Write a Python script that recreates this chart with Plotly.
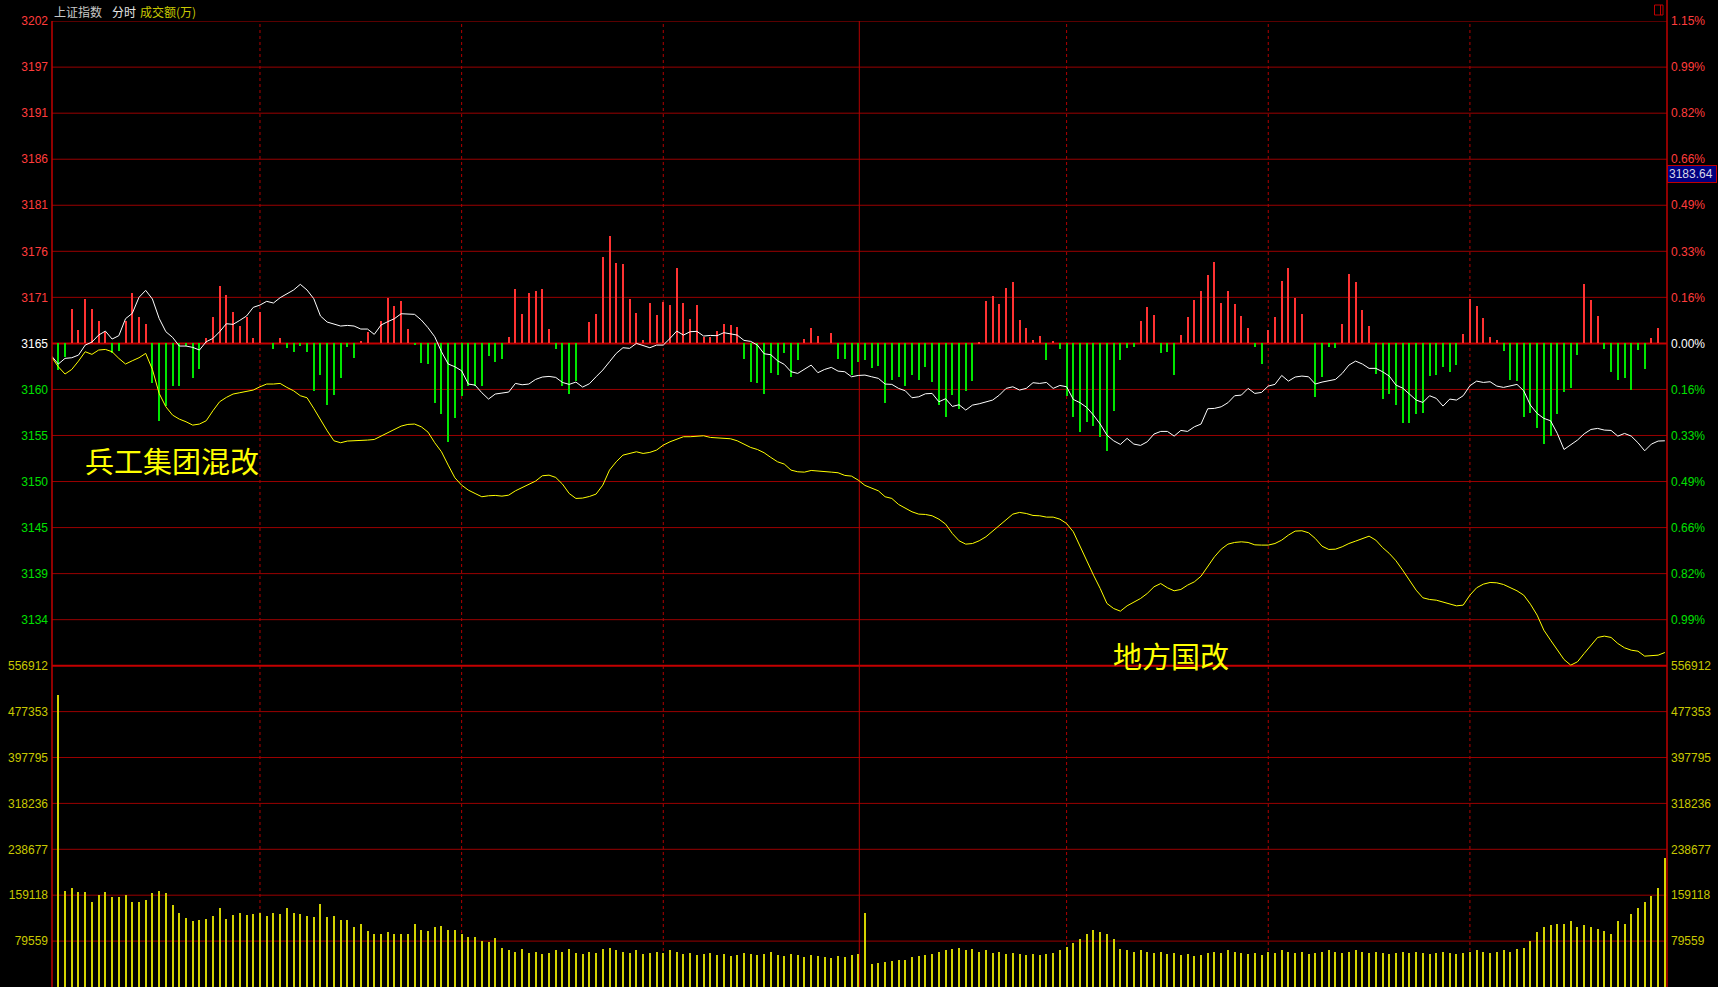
import plotly.graph_objects as go

# ---------------- data ----------------
PRE_CLOSE = 3165.40          # previous close (0.00% line)
PRICE_STEP = 5.20            # one grid step in index points (0.1643%)
left_price_labels = ["3134", "3139", "3145", "3150", "3155", "3160", "3165",
                     "3171", "3176", "3181", "3186", "3191", "3197", "3202"]
right_pct_labels = ["0.99%", "0.82%", "0.66%", "0.49%", "0.33%", "0.16%", "0.00%",
                    "0.16%", "0.33%", "0.49%", "0.66%", "0.82%", "0.99%", "1.15%"]
vol_tick_vals = [79559, 159118, 238677, 318236, 397795, 477353, 556912]
vol_tick_labels = ["79559", "159118", "238677", "318236", "397795", "477353", "556912"]

# white line: index, one value per minute (241 points)
index_line = [
    3163.97, 3163.07, 3163.71, 3163.78, 3164.08, 3165.21, 3165.55, 3166.34, 3166.79, 3165.89,
    3166.27, 3168.19, 3168.79, 3170.60, 3171.39, 3170.41, 3168.22, 3166.72, 3166.08, 3165.10,
    3165.10, 3164.95, 3164.65, 3165.59, 3165.96, 3166.72, 3167.62, 3167.55, 3168.00, 3168.49,
    3169.47, 3169.73, 3170.15, 3169.96, 3170.56, 3170.97, 3171.43, 3172.07, 3171.43, 3170.45,
    3168.49, 3167.81, 3167.58, 3167.36, 3167.43, 3167.36, 3167.02, 3167.02, 3166.42, 3167.47,
    3167.85, 3168.19, 3168.75, 3168.68, 3168.68, 3168.04, 3167.17, 3166.15, 3164.46, 3163.07,
    3162.76, 3162.31, 3160.81, 3160.69, 3159.83, 3159.11, 3159.68, 3159.79, 3159.90, 3160.88,
    3160.73, 3160.81, 3161.33, 3161.60, 3161.67, 3161.56, 3160.99, 3160.77, 3161.03, 3160.47,
    3160.84, 3161.63, 3162.39, 3163.33, 3164.27, 3164.91, 3164.84, 3165.40, 3165.14, 3164.91,
    3165.21, 3165.21, 3165.96, 3166.79, 3166.34, 3166.72, 3166.76, 3166.23, 3166.30, 3166.27,
    3166.61, 3166.45, 3166.34, 3165.74, 3165.63, 3165.21, 3164.23, 3164.12, 3163.44, 3163.03,
    3162.20, 3162.01, 3162.46, 3162.95, 3162.09, 3162.46, 3162.69, 3162.27, 3162.20, 3161.63,
    3161.78, 3161.82, 3161.63, 3161.45, 3160.81, 3160.77, 3160.32, 3160.05, 3159.26, 3159.37,
    3159.71, 3159.75, 3158.81, 3159.15, 3158.28, 3158.47, 3157.87, 3158.43, 3158.58, 3158.81,
    3159.00, 3159.56, 3160.32, 3160.50, 3160.13, 3160.32, 3160.96, 3160.88, 3160.99, 3160.32,
    3160.65, 3160.50, 3159.07, 3158.70, 3158.17, 3157.30, 3156.29, 3155.04, 3154.40, 3153.99,
    3154.67, 3154.03, 3153.88, 3154.29, 3155.16, 3155.46, 3155.46, 3154.93, 3155.57, 3155.46,
    3155.98, 3156.29, 3158.02, 3158.06, 3158.24, 3158.70, 3159.49, 3159.56, 3160.32, 3159.75,
    3159.86, 3160.58, 3160.77, 3161.78, 3161.14, 3161.60, 3161.71, 3161.63, 3160.81, 3161.03,
    3161.22, 3161.33, 3162.01, 3162.95, 3163.40, 3163.07, 3162.58, 3162.58, 3162.20, 3161.71,
    3160.69, 3160.35, 3159.68, 3159.00, 3158.73, 3159.49, 3159.19, 3158.32, 3159.11, 3159.00,
    3159.49, 3160.62, 3161.14, 3160.99, 3161.07, 3160.58, 3160.43, 3160.62, 3160.77, 3160.05,
    3158.43, 3157.49, 3156.93, 3156.66, 3155.23, 3153.42, 3153.99, 3154.48, 3155.19, 3155.68,
    3155.80, 3155.61, 3155.57, 3154.93, 3155.23, 3154.93, 3154.18, 3153.27, 3154.03, 3154.37,
    3154.40,
]

# yellow line, one value per minute (241 points)
avg_line = [
    3163.86, 3162.76, 3161.94, 3162.46, 3163.40, 3164.46, 3164.16, 3164.65, 3164.72, 3164.46,
    3163.71, 3163.07, 3163.44, 3163.78, 3164.27, 3162.46, 3159.75, 3158.24, 3157.30, 3156.85,
    3156.55, 3156.17, 3156.29, 3156.66, 3157.79, 3158.81, 3159.30, 3159.68, 3159.83, 3159.98,
    3160.13, 3160.50, 3160.81, 3160.81, 3160.88, 3160.43, 3160.05, 3159.49, 3159.26, 3158.06,
    3156.74, 3155.53, 3154.40, 3154.18, 3154.37, 3154.40, 3154.37, 3154.48, 3154.55, 3154.93,
    3155.38, 3155.72, 3156.06, 3156.25, 3156.29, 3155.98, 3155.38, 3154.18, 3153.16, 3151.65,
    3150.22, 3149.39, 3148.83, 3148.45, 3148.08, 3148.19, 3148.23, 3148.15, 3148.26, 3148.75,
    3149.13, 3149.47, 3149.85, 3150.45, 3150.52, 3150.26, 3149.51, 3148.45, 3147.89, 3147.93,
    3148.11, 3148.38, 3149.39, 3151.09, 3152.03, 3152.78, 3152.97, 3153.16, 3152.97, 3153.09,
    3153.35, 3153.91, 3154.29, 3154.55, 3154.86, 3154.86, 3154.89, 3154.97, 3154.78, 3154.74,
    3154.67, 3154.63, 3154.40, 3154.03, 3153.65, 3153.42, 3153.05, 3152.52, 3152.03, 3151.77,
    3151.09, 3150.90, 3150.86, 3151.05, 3151.01, 3150.94, 3150.86, 3150.79, 3150.49, 3150.41,
    3149.96, 3149.36, 3149.02, 3148.75, 3148.08, 3147.89, 3147.21, 3146.76, 3146.38, 3146.12,
    3146.08, 3145.93, 3145.55, 3144.99, 3143.93, 3143.11, 3142.73, 3142.80, 3143.11, 3143.56,
    3144.20, 3144.80, 3145.52, 3146.12, 3146.31, 3146.19, 3145.97, 3145.93, 3145.78, 3145.78,
    3145.55, 3145.06, 3144.12, 3142.43, 3140.73, 3139.23, 3137.72, 3136.03, 3135.46, 3135.16,
    3135.76, 3136.21, 3136.59, 3137.16, 3137.91, 3138.28, 3137.80, 3137.46, 3137.61, 3138.10,
    3138.47, 3139.11, 3140.17, 3141.30, 3142.16, 3142.73, 3142.92, 3142.99, 3142.92, 3142.65,
    3142.62, 3142.62, 3142.80, 3143.18, 3143.75, 3144.20, 3144.24, 3144.01, 3143.37, 3142.50,
    3142.13, 3142.16, 3142.43, 3142.80, 3143.07, 3143.37, 3143.63, 3143.18, 3142.35, 3141.68,
    3140.85, 3139.79, 3138.66, 3137.53, 3136.67, 3136.48, 3136.40, 3136.21, 3136.03, 3135.76,
    3135.84, 3136.97, 3137.80, 3138.21, 3138.40, 3138.36, 3138.17, 3137.83, 3137.46, 3136.97,
    3135.95, 3134.71, 3133.01, 3131.88, 3130.75, 3129.70, 3129.06, 3129.44, 3130.38, 3131.32,
    3132.19, 3132.34, 3132.19, 3131.51, 3131.02, 3130.75, 3130.64, 3130.08, 3130.11, 3130.19,
    3130.49,
]

# red/green buy-sell strength columns, one per minute (241 values, arbitrary units)
strength = [
    0, -80, -40, 103, 40, 133, 103, 67, 35, -30,
    -23, 67, 151, 79, 58, -118, -232, -188, -127, -127,
    -8, -103, -77, 16, 79, 172, 145, 94, 52, 79,
    16, 94, 0, -17, 16, -14, -26, -8, -26, -142,
    -95, -185, -154, -103, -10, -43, 7, 35, 0, 67,
    137, 112, 127, 43, -4, -58, -62, -178, -212, -295,
    -223, -157, -127, -127, -127, -37, -55, -48, 19, 163,
    88, 151, 157, 163, 43, -16, -127, -151, -114, 0,
    64, 88, 260, 322, 242, 239, 133, 91, 10, 121,
    85, 125, 115, 226, 121, 73, 115, 20, 20, 37,
    58, 55, 49, -47, -116, -118, -151, -88, -94, -28,
    -100, -49, 13, 46, 22, 0, 31, -46, -46, -96,
    -55, -49, -73, -67, -178, -109, -100, -127, -94, -109,
    -70, -115, -184, -220, -154, -196, -142, -112, 4, 127,
    142, 118, 166, 184, 70, 46, 10, 22, -49, 7,
    -16, -157, -220, -265, -235, -247, -280, -322, -202, -49,
    -13, -10, 67, 109, 85, -28, -25, -94, 25, 79,
    130, 157, 205, 244, 121, 157, 118, 82, 46, -10,
    -61, 40, 79, 187, 226, 136, 88, 0, -160, -100,
    -10, -13, 58, 208, 184, 100, 52, -91, -166, -151,
    -184, -238, -238, -211, -208, -97, -94, -70, -85, -64,
    28, 133, 112, 76, 19, 10, -22, -109, -112, -220,
    -208, -253, -301, -277, -211, -145, -133, -34, 178, 130,
    82, -16, -85, -109, -103, -139, -19, -76, 16, 46,
    0,
]

# turnover (万), minutes 1..240
volume = [
    506400, 167700, 172300, 165900, 165900, 148600, 160700, 165900, 156100, 157300,
    160700, 148600, 148600, 152100, 164200, 167700, 164200, 142200, 128400, 119300,
    114100, 117500, 119000, 123000, 138000, 119000, 125000, 129000, 125000, 127000,
    129000, 123000, 129000, 127000, 138000, 129000, 127000, 123000, 121000, 144000,
    121000, 123000, 116000, 117000, 104000, 110000, 97000, 93000, 93000, 95000,
    93000, 93000, 93000, 110000, 100000, 97000, 104000, 106000, 100000, 100000,
    93000, 87000, 87000, 81000, 78000, 85000, 68000, 64000, 62000, 66000,
    60000, 62000, 58000, 60000, 64000, 62000, 66000, 60000, 58000, 62000,
    60000, 66000, 68000, 64000, 62000, 60000, 64000, 58000, 60000, 62000,
    60000, 64000, 62000, 58000, 60000, 56000, 58000, 60000, 56000, 58000,
    54000, 56000, 60000, 58000, 56000, 58000, 62000, 56000, 54000, 58000,
    56000, 52000, 56000, 54000, 52000, 50000, 54000, 52000, 56000, 58000,
    129000, 40000, 42000, 44000, 45000, 47000, 48000, 52000, 54000, 56000,
    58000, 62000, 64000, 66000, 68000, 64000, 66000, 62000, 64000, 60000,
    62000, 58000, 60000, 58000, 56000, 58000, 56000, 58000, 60000, 64000,
    70000, 76000, 84000, 92000, 100000, 96000, 92000, 84000, 66000, 64000,
    62000, 64000, 62000, 60000, 62000, 58000, 60000, 56000, 58000, 54000,
    56000, 60000, 62000, 60000, 64000, 62000, 60000, 58000, 60000, 56000,
    62000, 60000, 64000, 62000, 60000, 62000, 58000, 60000, 62000, 64000,
    62000, 60000, 62000, 64000, 62000, 60000, 62000, 60000, 58000, 60000,
    62000, 60000, 62000, 60000, 58000, 60000, 62000, 60000, 58000, 60000,
    62000, 64000, 62000, 60000, 62000, 64000, 62000, 66000, 68000, 80000,
    96000, 104000, 107200, 108900, 108900, 114100, 103700, 107200, 103700, 100200,
    96800, 91600, 114100, 108900, 126200, 138300, 148600, 159000, 172800, 223500,
]

# ---------------- layout constants ----------------
W_PX, H_PX = 1718, 987
M_L, M_R, M_T, M_B = 52, 51, 21, 0
PLOT_W = W_PX - M_L - M_R
PLOT_H = H_PX - M_T - M_B
SPLIT = (H_PX - 665.7) / PLOT_H          # volume panel share
X_RANGE = [0.06, 240.32]
STRENGTH_SCALE = 0.03766                 # strength unit -> index points
BAR_W = 0.15

RED_TXT = "#ff3c3c"
GREEN_TXT = "#00e000"
VOL_TXT = "#c8c800"
GRID = "#9a0000"
THICK = "#c40000"
FONT = "Liberation Sans, Arial, sans-serif"
CJK = "Noto Sans CJK SC"


def px_x(px):
    return (px - M_L) / PLOT_W


def px_y(py):
    return (H_PX - M_B - py) / PLOT_H


n = len(index_line)
minutes = list(range(n))
levels = [PRE_CLOSE + k * PRICE_STEP for k in range(-6, 8)]
ks = list(range(-6, 8))


def col(k):
    return RED_TXT if k > 0 else ("#ffffff" if k == 0 else GREEN_TXT)


left_text = [f"<span style='color:{col(k)}'>{t}</span>" for k, t in zip(ks, left_price_labels)]
right_text = [f"<span style='color:{col(k)}'>{t}</span>" for k, t in zip(ks, right_pct_labels)]

fig = go.Figure()

# strength columns (red up / green down) from the previous-close line
up_x = [i for i, v in zip(minutes, strength) if v > 0]
up_y = [v * STRENGTH_SCALE for v in strength if v > 0]
dn_x = [i for i, v in zip(minutes, strength) if v < 0]
dn_y = [v * STRENGTH_SCALE for v in strength if v < 0]
fig.add_trace(go.Bar(x=up_x, y=up_y, base=PRE_CLOSE, width=BAR_W,
                     marker=dict(color="#ff3232", line=dict(width=0)),
                     xaxis="x", yaxis="y", showlegend=False, hoverinfo="skip"))
fig.add_trace(go.Bar(x=dn_x, y=dn_y, base=PRE_CLOSE, width=BAR_W,
                     marker=dict(color="#00e600", line=dict(width=0)),
                     xaxis="x", yaxis="y", showlegend=False, hoverinfo="skip"))

fig.add_trace(go.Scatter(x=minutes, y=avg_line, mode="lines",
                         line=dict(color="#ffff00", width=1),
                         xaxis="x", yaxis="y", showlegend=False, hoverinfo="skip"))
fig.add_trace(go.Scatter(x=minutes, y=index_line, mode="lines",
                         line=dict(color="#ffffff", width=1),
                         xaxis="x", yaxis="y", showlegend=False, hoverinfo="skip"))

# volume
fig.add_trace(go.Bar(x=list(range(1, len(volume) + 1)), y=volume, width=BAR_W,
                     marker=dict(color="#d2d200", line=dict(width=0)),
                     xaxis="x", yaxis="y2", showlegend=False, hoverinfo="skip"))

# helper traces so the right-hand axes are drawn
fig.add_trace(go.Scatter(x=[None], y=[None], xaxis="x", yaxis="y3", showlegend=False))
fig.add_trace(go.Scatter(x=[None], y=[None], xaxis="x", yaxis="y4", showlegend=False))

p_range = [PRE_CLOSE - 7 * PRICE_STEP, PRE_CLOSE + 7 * PRICE_STEP + 0.01]
v_range = [0, vol_tick_vals[-1] + 1]
tick_font = dict(family=FONT, size=12)

shapes = []
# price grid
for k, lv in zip(ks, levels):
    shapes.append(dict(type="line", xref="paper", yref="y", x0=0, x1=1, y0=lv, y1=lv,
                       line=dict(color=THICK if k == 0 else GRID, width=2 if k == 0 else 1),
                       layer="below"))
# panel separator
shapes.append(dict(type="line", xref="paper", yref="paper", x0=0, x1=1, y0=SPLIT, y1=SPLIT,
                   line=dict(color=THICK, width=2), layer="below"))
# volume grid
for v in vol_tick_vals[:-1]:
    shapes.append(dict(type="line", xref="paper", yref="y2", x0=0, x1=1, y0=v, y1=v,
                       line=dict(color=GRID, width=1), layer="below"))
# half-hour dotted lines
for m in [31, 61, 91, 151, 181, 211]:
    shapes.append(dict(type="line", xref="x", yref="paper", x0=m, x1=m, y0=0, y1=1,
                       line=dict(color="#b00000", width=1, dash="dot"), layer="below"))
# midday solid line and borders
shapes.append(dict(type="line", xref="x", yref="paper", x0=120.16, x1=120.16, y0=0, y1=1,
                   line=dict(color="#b40000", width=1), layer="below"))
shapes.append(dict(type="line", xref="paper", yref="paper", x0=0, x1=0, y0=0, y1=1,
                   line=dict(color="#c00000", width=1.5)))
shapes.append(dict(type="line", xref="paper", yref="paper", x0=1, x1=1, y0=0, y1=px_y(0),
                   line=dict(color="#c00000", width=1.5)))
# small icon top-right
shapes.append(dict(type="rect", xref="paper", yref="paper", x0=px_x(1654.5), x1=px_x(1663),
                   y0=px_y(15), y1=px_y(5), line=dict(color="#c00000", width=1)))
shapes.append(dict(type="line", xref="paper", yref="paper", x0=px_x(1660.5), x1=px_x(1660.5),
                   y0=px_y(15), y1=px_y(5), line=dict(color="#c00000", width=1)))

annotations = [
    dict(text="上证指数", xref="paper", yref="paper", x=px_x(52), y=px_y(11.5),
         xanchor="left", yanchor="middle", showarrow=False,
         font=dict(family=CJK, size=12, color="#c8c8c8")),
    dict(text="分时", xref="paper", yref="paper", x=px_x(110), y=px_y(11.5),
         xanchor="left", yanchor="middle", showarrow=False,
         font=dict(family=CJK, size=12, color="#e6e6e6")),
    dict(text="成交额(万)", xref="paper", yref="paper", x=px_x(138), y=px_y(11.5),
         xanchor="left", yanchor="middle", showarrow=False,
         font=dict(family=CJK, size=12, color=VOL_TXT)),
    dict(text="兵工集团混改", xref="x", yref="y", x=4.6, y=3152.2,
         xanchor="left", yanchor="middle", showarrow=False,
         font=dict(family=CJK, size=29, color="#ffff00")),
    dict(text="地方国改", xref="x", yref="y", x=157.6, y=3130.2,
         xanchor="left", yanchor="middle", showarrow=False,
         font=dict(family=CJK, size=29, color="#ffff00")),
    dict(text="3183.64", xref="paper", yref="paper", x=1.0, y=px_y(174),
         xanchor="left", yanchor="middle", showarrow=False,
         bgcolor="#000080", bordercolor="#c00000", borderwidth=1, borderpad=1,
         width=46, align="left",
         font=dict(family=FONT, size=12, color="#d8d8e8")),
]

fig.update_layout(
    width=W_PX, height=H_PX,
    margin=dict(l=M_L, r=M_R, t=M_T, b=M_B, pad=0),
    paper_bgcolor="#000000", plot_bgcolor="#000000",
    barmode="overlay", bargap=0,
    showlegend=False,
    xaxis=dict(domain=[0, 1], range=X_RANGE, anchor="y2", visible=False, fixedrange=True),
    yaxis=dict(domain=[SPLIT, 1], range=p_range, anchor="x", side="left",
               tickvals=levels, ticktext=left_text, tickfont=tick_font,
               showgrid=False, zeroline=False, showline=False, ticks="", ticklabelstandoff=3),
    yaxis3=dict(overlaying="y", range=p_range, anchor="x", side="right",
                tickvals=levels, ticktext=right_text, tickfont=tick_font,
                showgrid=False, zeroline=False, showline=False, ticks="", ticklabelstandoff=3),
    yaxis2=dict(domain=[0, SPLIT], range=v_range, anchor="x", side="left",
                tickvals=vol_tick_vals, ticktext=vol_tick_labels,
                tickfont=dict(family=FONT, size=12, color=VOL_TXT),
                showgrid=False, zeroline=False, showline=False, ticks="", ticklabelstandoff=3),
    yaxis4=dict(overlaying="y2", range=v_range, anchor="x", side="right",
                tickvals=vol_tick_vals, ticktext=vol_tick_labels,
                tickfont=dict(family=FONT, size=12, color=VOL_TXT),
                showgrid=False, zeroline=False, showline=False, ticks="", ticklabelstandoff=3),
    shapes=shapes,
    annotations=annotations,
)

assert len(index_line) == 241 and len(avg_line) == 241 and len(strength) == 241
assert len(volume) == 240

post = (
    "document.body.style.margin='0';document.body.style.overflow='hidden';"
    "document.querySelectorAll('.barlayer path').forEach(function(p){"
    "p.style.shapeRendering='crispEdges';});"
)
fig.write_html("out.html", config={"displayModeBar": False}, post_script=post)
